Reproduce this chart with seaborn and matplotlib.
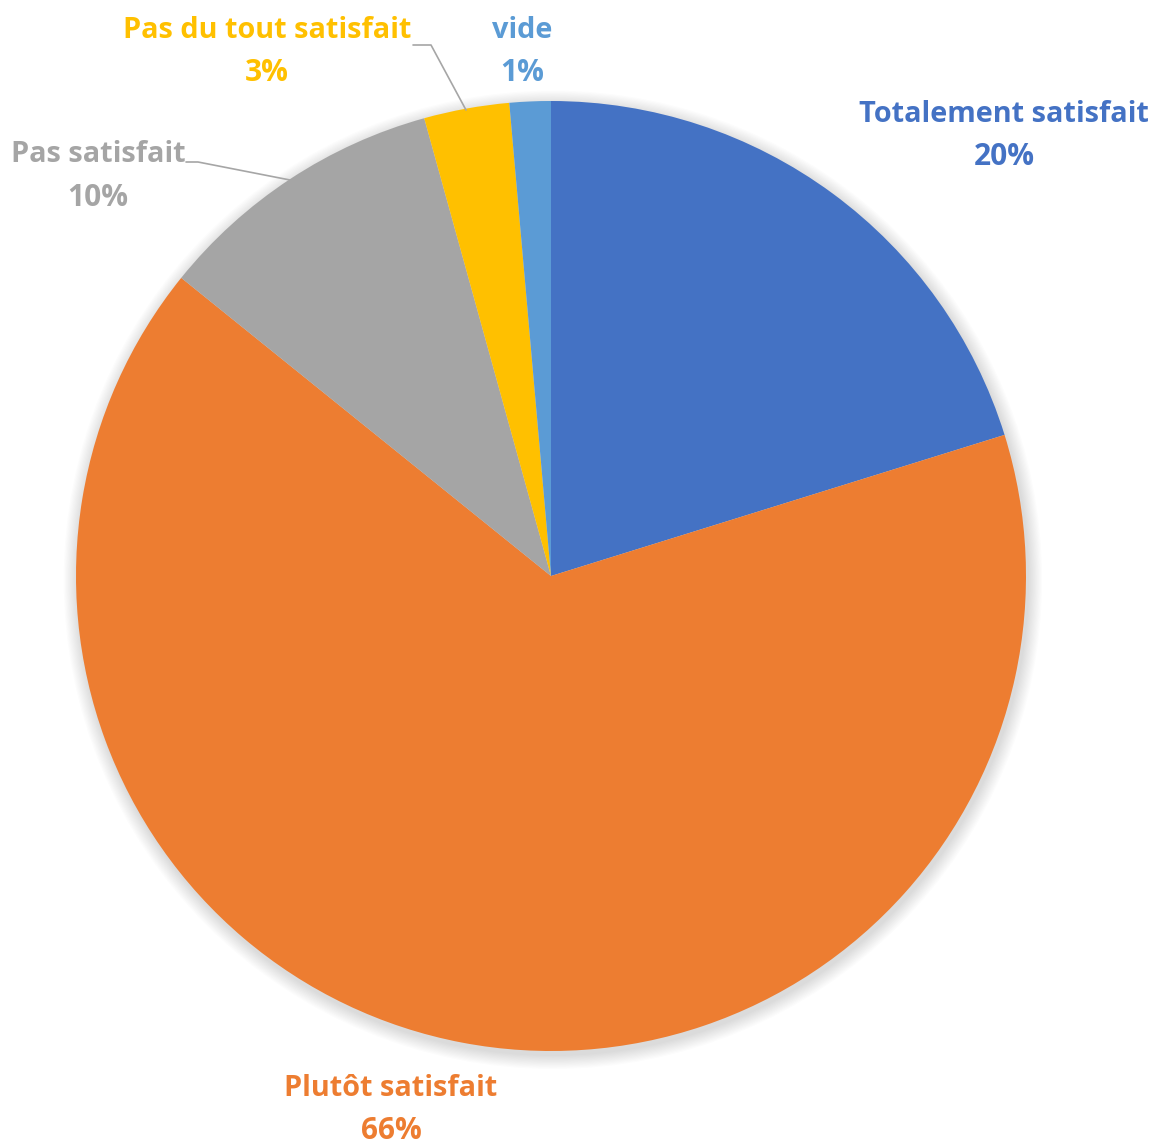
import numpy as np
import seaborn as sns
import matplotlib.pyplot as plt

# Data
categories = ["Totalement satisfait", "Plutôt satisfait", "Pas satisfait",
              "Pas du tout satisfait", "vide"]
shares = [20.2, 65.6, 9.9, 2.9, 1.4]
colors = ["#4472C4", "#ED7D31", "#A5A5A5", "#FFC000", "#5B9BD5"]

sns.set_theme(style="white")
plt.rcParams['font.family'] = ['Open Sans', 'DejaVu Sans']

W, H = 1165, 1145
CX, CY, R = 551, 576, 475


def px(x, y):
    # pixel position -> data coords (pie of radius 1 at origin)
    return (x - CX) / R, (CY - y) / R


fig = plt.figure(figsize=(W / 100, H / 100), dpi=100)
ax = fig.add_axes([0, 0, 1, 1])

# soft shadow behind the pie
for i in range(12):
    ax.add_patch(plt.Circle((0.004, -0.008), 1 + 0.0025 * (12 - i),
                            color='black', alpha=0.012, lw=0, zorder=0))

ax.pie(shares, colors=colors, startangle=90, counterclock=False,
       radius=1, center=(0, 0), wedgeprops=dict(linewidth=0),
       frame=True)
ax.set_xlim(-CX / R, (W - CX) / R)
ax.set_ylim((CY - H) / R, CY / R)
ax.set_aspect('equal')
ax.axis('off')

# label layout (pixel centres of name line)
label_pos = [(1004, 114), (391, 1088), (98, 155), (267, 30), (522, 30)]
for name, val, col, (lx, ly) in zip(categories, shares, colors, label_pos):
    ax.text(*px(lx, ly), name, color=col, fontsize=20.8, fontweight='bold',
            ha='center', va='center')
    ax.text(*px(lx, ly + 43), f"{round(val):.0f}%", color=col, fontsize=21.5,
            fontweight='bold', ha='center', va='center')

# leader lines
lines = [[(186, 162), (198, 162), (290, 180)],
         [(413, 45), (431, 45), (466, 110)]]
for pts in lines:
    xs, ys = zip(*[px(x, y) for x, y in pts])
    ax.plot(xs, ys, color='#A6A6A6', lw=1.2, zorder=5)

fig.savefig("out.png", dpi=100)
